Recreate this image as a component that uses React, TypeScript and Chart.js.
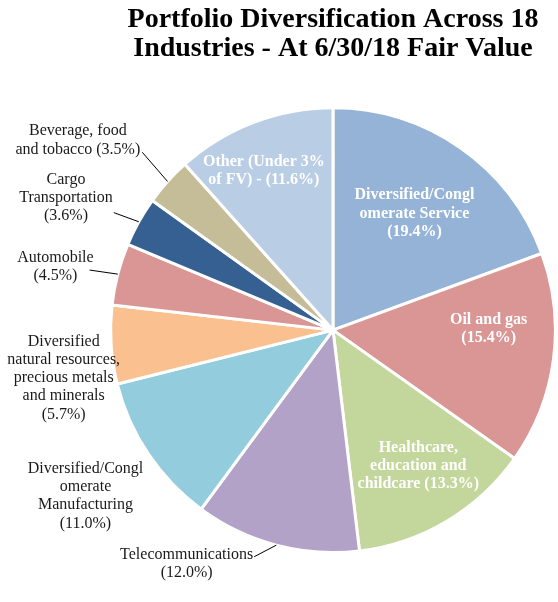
import { useEffect, useRef } from "react"
import { Chart, registerables } from "chart.js"

Chart.register(...registerables)

const categories = [
  "Diversified/Conglomerate Service",
  "Oil and gas",
  "Healthcare, education and childcare",
  "Telecommunications",
  "Diversified/Conglomerate Manufacturing",
  "Diversified natural resources, precious metals and minerals",
  "Automobile",
  "Cargo Transportation",
  "Beverage, food and tobacco",
  "Other (Under 3% of FV)",
]

const shares = [19.4, 15.4, 13.3, 12.0, 11.0, 5.7, 4.5, 3.6, 3.5, 11.6]

// label lines as printed on the chart, {v} is replaced by the share
const labelLines = [
  ["Diversified/Congl", "omerate Service", "({v}%)"],
  ["Oil and gas", "({v}%)"],
  ["Healthcare,", "education and", "childcare ({v}%)"],
  ["Telecommunications", "({v}%)"],
  ["Diversified/Congl", "omerate", "Manufacturing", "({v}%)"],
  ["Diversified", "natural resources,", "precious metals", "and minerals", "({v}%)"],
  ["Automobile", "({v}%)"],
  ["Cargo", "Transportation", "({v}%)"],
  ["Beverage, food", "and tobacco ({v}%)"],
  ["Other (Under 3%", "of FV) - ({v}%)"],
]

const colors = [
  "#95B3D7",
  "#D99694",
  "#C3D69B",
  "#B3A2C7",
  "#93CDDD",
  "#FAC090",
  "#D99694",
  "#376092",
  "#C4BD97",
  "#B9CDE5",
]

// label placement: angle shift from slice middle (deg), distance in radii,
// inside (white bold) or outside, and where a leader line leaves the text block
const placement = [
  { shift: 0, dist: 0.64, inside: true, leader: null },
  { shift: -8, dist: 0.7, inside: true, leader: null },
  { shift: -1.4, dist: 0.72, inside: true, leader: null },
  { shift: 17.3, dist: 1.24, inside: false, leader: { dx: 1, dy: 2 } },
  { shift: 0, dist: 1.34, inside: false, leader: null },
  { shift: -6.3, dist: 1.23, inside: false, leader: null },
  { shift: -1.8, dist: 1.28, inside: false, leader: { dx: -4, dy: 12 } },
  { shift: -2.8, dist: 1.34, inside: false, leader: { dx: 1, dy: 33 } },
  { shift: -5.3, dist: 1.43, inside: false, leader: { dx: 2, dy: 21 } },
  { shift: -2.6, dist: 0.78, inside: true, leader: null },
]

const FONT = "'Liberation Serif', 'DejaVu Serif', serif"
const LINE_H = 18.2

const sliceLabels = {
  id: "sliceLabels",
  afterDatasetsDraw(chart: Chart) {
    const ctx = chart.ctx
    const meta = chart.getDatasetMeta(0)
    meta.data.forEach((el: any, i: number) => {
      const p = placement[i]
      const mid = (el.startAngle + el.endAngle) / 2
      const a = mid + (p.shift * Math.PI) / 180
      const r = el.outerRadius
      const cx = el.x + Math.cos(a) * r * p.dist
      const cy = el.y + Math.sin(a) * r * p.dist
      const lines = labelLines[i].map((s) => s.replace("{v}", shares[i].toFixed(1)))
      ctx.save()
      ctx.font = p.inside ? "bold 16px " + FONT : "16px " + FONT
      ctx.fillStyle = p.inside ? "#ffffff" : "#1a1a1a"
      ctx.textAlign = "center"
      ctx.textBaseline = "middle"
      const top = cy - ((lines.length - 1) * LINE_H) / 2
      lines.forEach((ln, k) => ctx.fillText(ln, cx, top + k * LINE_H))
      if (p.leader) {
        const w = Math.max(...lines.map((ln) => ctx.measureText(ln).width))
        const sx = cx + w / 2 + p.leader.dx
        const sy = top + p.leader.dy
        ctx.strokeStyle = "#000000"
        ctx.lineWidth = 1
        ctx.beginPath()
        ctx.moveTo(sx, sy)
        ctx.lineTo(el.x + Math.cos(mid) * r, el.y + Math.sin(mid) * r)
        ctx.stroke()
      }
      ctx.restore()
    })
  },
}

export default function App() {
  const chartRef = useRef<HTMLCanvasElement>(null)
  const chartInstance = useRef<Chart | null>(null)

  useEffect(() => {
    document.body.style.margin = "0"
    if (!chartRef.current) return
    if (chartInstance.current) {
      chartInstance.current.destroy()
    }
    const ctx = chartRef.current.getContext("2d")
    if (!ctx) return

    chartInstance.current = new Chart(ctx, {
      type: "pie",
      data: {
        labels: categories,
        datasets: [
          {
            data: shares,
            backgroundColor: colors,
            borderColor: "#ffffff",
            borderWidth: 3,
            hoverOffset: 0,
            offset: 0,
          },
        ],
      },
      options: {
        responsive: true,
        maintainAspectRatio: false,
        animation: false,
        layout: {
          padding: { left: 109, right: 1, top: 0, bottom: 48 },
        },
        plugins: {
          legend: { display: false },
          tooltip: { enabled: false },
          title: {
            display: true,
            text: ["Portfolio Diversification Across 18", "Industries - At 6/30/18 Fair Value"],
            color: "#000000",
            align: "center",
            font: { family: FONT, size: 28, weight: "bold", lineHeight: 1.04 },
            padding: { top: 5, bottom: 43 },
          },
        },
      },
      plugins: [sliceLabels],
    })

    return () => {
      if (chartInstance.current) {
        chartInstance.current.destroy()
      }
    }
  }, [])

  return (
    <div style={{ width: "558px", height: "602px" }}>
      <canvas ref={chartRef} />
    </div>
  )
}
